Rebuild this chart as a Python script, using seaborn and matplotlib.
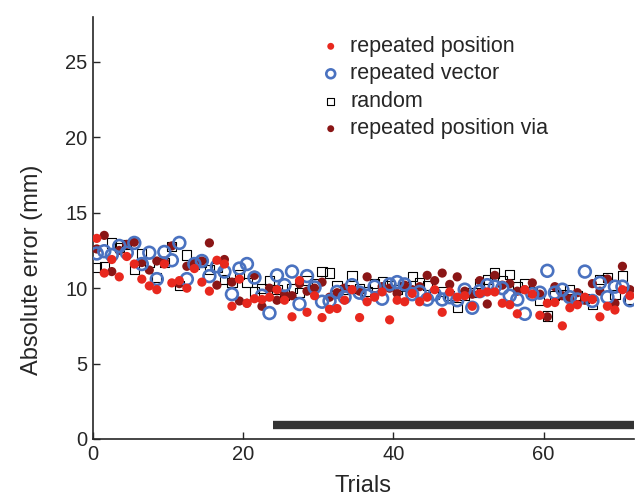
import numpy as np
import pandas as pd
import matplotlib
matplotlib.use("Agg")
import matplotlib.pyplot as plt
import seaborn as sns

# trial centres (72 trials)
trials = np.arange(72) + 0.5

repeated_position = [
    13.3, 11.0, 11.9, 10.75, 12.1, 11.6, 10.6, 10.15, 9.9, 11.6, 10.35, 10.5,
    10.0, 11.3, 10.4, 9.8, 11.85, 11.6, 8.8, 10.6, 9.0, 9.3, 9.25, 9.4,
    9.9, 9.2, 8.1, 10.5, 8.4, 9.5, 8.05, 8.6, 8.65, 9.2, 9.9, 8.05,
    9.1, 9.4, 9.75, 7.9, 9.2, 9.1, 9.65, 9.1, 9.4, 9.9, 8.4, 9.75,
    9.4, 9.5, 8.8, 9.65, 9.75, 9.75, 9.0, 8.9, 8.3, 9.9, 9.6, 8.2,
    9.0, 9.05, 7.5, 8.7, 8.9, 9.4, 9.25, 8.1, 8.8, 8.55, 9.9, 9.5,
]
repeated_vector = [
    12.3, 12.45, 12.2, 12.8, 12.35, 13.0, 11.6, 12.35, 10.6, 12.4, 11.85, 13.0,
    10.6, 11.6, 11.8, 10.8, 11.45, 11.1, 9.6, 11.3, 11.6, 10.7, 9.5, 8.35,
    10.85, 10.2, 11.1, 8.95, 10.8, 10.05, 9.1, 9.15, 9.75, 9.4, 10.2, 9.7,
    9.5, 10.1, 9.3, 10.25, 10.4, 10.25, 9.6, 9.75, 9.25, 9.6, 9.25, 9.4,
    9.2, 9.9, 8.7, 9.8, 10.2, 10.1, 10.0, 9.5, 9.25, 8.3, 9.6, 9.7,
    11.15, 9.7, 9.9, 9.4, 9.25, 11.1, 9.15, 10.35, 9.4, 10.1, 10.1, 9.2,
]
random_cond = [
    11.35, 11.4, 13.0, 12.7, 12.9, 11.25, 12.3, 11.7, 10.7, 11.7, 12.75, 10.2,
    12.2, 11.6, 11.7, 11.25, 11.35, 10.6, 10.35, 10.9, 10.4, 9.75, 10.0, 10.5,
    9.9, 9.55, 10.0, 9.7, 10.5, 10.3, 11.1, 11.0, 10.15, 9.9, 10.8, 10.0,
    9.8, 10.3, 10.45, 10.2, 9.9, 10.1, 10.75, 10.4, 10.2, 9.6, 9.8, 9.5,
    8.75, 9.5, 9.7, 10.3, 10.6, 11.0, 10.5, 10.9, 10.1, 10.3, 9.8, 9.2,
    8.15, 9.5, 9.6, 9.9, 9.5, 9.3, 8.9, 10.6, 10.7, 9.6, 10.8, 9.25,
]
repeated_position_via = [
    12.6, 13.5, 11.1, 12.5, 12.9, 13.05, 11.7, 11.2, 11.8, 11.8, 12.8, 10.3,
    11.45, 11.7, 11.8, 13.0, 10.2, 11.9, 10.4, 9.15, 9.0, 10.85, 8.8, 10.0,
    9.2, 9.6, 9.5, 10.3, 9.8, 10.0, 10.4, 9.4, 9.7, 10.0, 9.9, 9.8,
    10.75, 9.5, 10.1, 10.0, 9.65, 10.2, 9.9, 10.1, 10.85, 10.5, 11.0, 10.25,
    10.75, 9.8, 9.6, 10.5, 8.95, 10.85, 10.2, 10.3, 9.8, 9.9, 10.35, 9.6,
    8.1, 10.1, 9.5, 9.3, 9.7, 9.2, 10.3, 9.8, 10.6, 9.0, 11.45, 9.9,
]

# horizontal bar marking the test phase
bar_start, bar_end, bar_level = 24, 72, 0.95

df = pd.DataFrame({
    "trial": trials,
    "repeated position": repeated_position,
    "repeated vector": repeated_vector,
    "random": random_cond,
    "repeated position via": repeated_position_via,
})

sns.set_style("ticks")
plt.rcParams["font.family"] = ["Liberation Sans", "DejaVu Sans"]

fig = plt.figure(figsize=(6.44, 4.98), dpi=100)
ax = fig.add_axes([0.1444, 0.1185, 0.8396, 0.848])

red = "#e8281e"
blue = "#4a72c0"
dark = "#8a1616"

sns.scatterplot(data=df, x="trial", y="random", ax=ax, marker="s", s=44,
                color="black", facecolor="none", edgecolor="black",
                linewidth=0.8, label="random", zorder=2)
sns.scatterplot(data=df, x="trial", y="repeated position via", ax=ax,
                marker="o", s=44, color=dark, edgecolor="none",
                label="repeated position via", zorder=3)
sns.scatterplot(data=df, x="trial", y="repeated vector", ax=ax,
                marker="o", s=72, color=blue, facecolor="none",
                edgecolor=blue, linewidth=1.9, label="repeated vector",
                zorder=4)
sns.scatterplot(data=df, x="trial", y="repeated position", ax=ax,
                marker="o", s=44, color=red, edgecolor="none",
                label="repeated position", zorder=5)

ax.plot([bar_start, bar_end], [bar_level, bar_level], color="#333333",
        linewidth=6, solid_capstyle="butt", zorder=6)

ax.set_xlim(0, 72)
ax.set_ylim(0, 28)
ax.set_xticks([0, 20, 40, 60])
ax.set_yticks([0, 5, 10, 15, 20, 25])
ax.tick_params(direction="in", length=5, width=1, labelsize=14.5, pad=4)
for side in ["top", "right"]:
    ax.spines[side].set_visible(False)
for side in ["left", "bottom"]:
    ax.spines[side].set_linewidth(1.2)

ax.set_xlabel("Trials", fontsize=17, labelpad=8)
ax.set_ylabel("Absolute error (mm)", fontsize=17)
ax.yaxis.set_label_coords(-0.092, 0.40)

handles, labels = ax.get_legend_handles_labels()
order = ["repeated position", "repeated vector", "random", "repeated position via"]
hmap = dict(zip(labels, handles))
ax.legend([hmap[k] for k in order], order, loc="upper left",
          bbox_to_anchor=(0.372, 0.99), frameon=False, fontsize=15.5,
          handletextpad=-0.1, labelspacing=0.3, markerscale=0.75,
          borderaxespad=0.3)

fig.savefig("out.png", dpi=100)
